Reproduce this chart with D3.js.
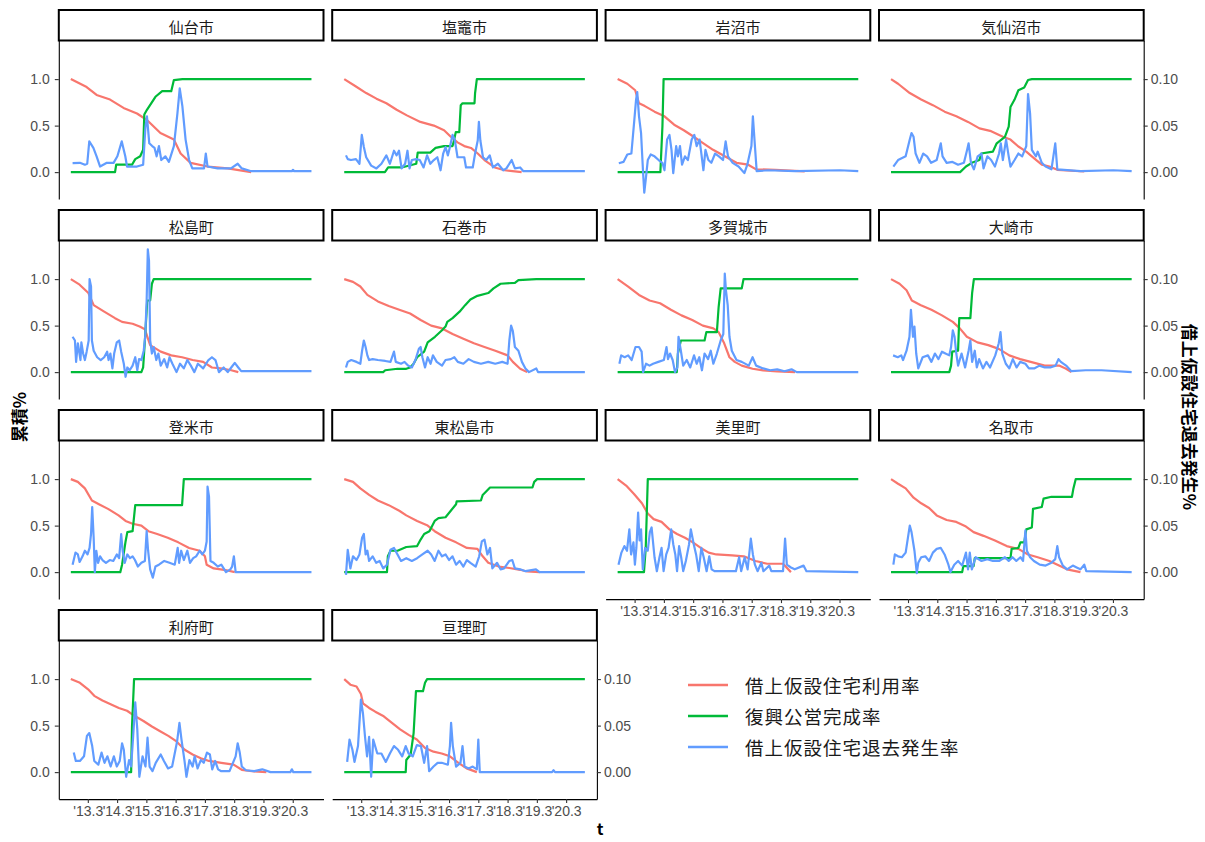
<!DOCTYPE html>
<html><head><meta charset="utf-8">
<script src="https://cdn.jsdelivr.net/npm/d3@7"></script>
<style>
body{margin:0;background:#fff;}
svg{display:block;}
</style></head>
<body>
<svg id="chart" width="1205" height="842"></svg>
<script>
// ---- data (t = years since start of record, ≈ Aug 2012) ----
const cities = ["仙台市","塩竈市","岩沼市","気仙沼市","松島町","石巻市","多賀城市","大崎市","登米市","東松島市","美里町","名取市","利府町","亘理町"];
const seriesNames = ["借上仮設住宅利用率","復興公営完成率","借上仮設住宅退去発生率"];
const xTickPos = [0.58,1.58,2.58,3.58,4.58,5.58,6.58,7.58];
const xTickLabels = ["'13.3","'14.3","'15.3","'16.3","'17.3","'18.3","'19.3","'20.3"];
const yTicksLeft = [0,0.5,1.0];
const yTicksRight = [0,0.05,0.10];

// 借上仮設住宅利用率 (left axis) : flat [t,v,...]
const useRate = [
[0,1, 0.54,0.914, 0.88,0.83, 1.34,0.78, 1.80,0.69, 2.26,0.63, 2.60,0.56, 3.06,0.42, 3.52,0.35, 3.75,0.20, 4.09,0.10, 4.67,0.06, 5.36,0.04, 6.16,0],
[0,1, 0.40,0.92, 0.75,0.85, 1.10,0.79, 1.44,0.74, 1.79,0.67, 2.14,0.61, 2.60,0.54, 3.06,0.50, 3.41,0.45, 3.64,0.38, 3.87,0.32, 4.10,0.28, 4.33,0.26, 4.56,0.20, 4.79,0.13, 5.14,0.05, 5.48,0.02, 6.06,0],
[0,1, 0.33,0.95, 0.60,0.88, 0.73,0.74, 0.93,0.71, 1.26,0.65, 1.60,0.60, 1.93,0.51, 2.26,0.45, 2.60,0.38, 2.93,0.31, 3.26,0.24, 3.66,0.17, 4.06,0.10, 4.46,0.08, 4.73,0.03, 5.39,0.025, 6.39,0.007],
[0,1, 0.24,0.95, 0.64,0.85, 1.03,0.78, 1.43,0.72, 1.83,0.65, 2.23,0.60, 2.63,0.54, 3.02,0.47, 3.42,0.44, 3.82,0.38, 4.08,0.35, 4.35,0.275, 4.62,0.22, 4.88,0.15, 5.15,0.08, 5.41,0.06, 5.68,0.025, 6.60,0.007],
[0,1, 0.30,0.94, 0.60,0.85, 0.78,0.72, 1.14,0.65, 1.51,0.58, 1.75,0.54, 2.11,0.52, 2.35,0.49, 2.53,0.46, 2.71,0.29, 3.07,0.22, 3.43,0.18, 3.80,0.16, 4.16,0.13, 4.52,0.11, 4.82,0.05, 5.12,0.04, 5.48,0.02, 5.72,0],
[0,1, 0.30,0.97, 0.55,0.92, 0.79,0.83, 1.15,0.76, 1.52,0.71, 1.88,0.67, 2.25,0.63, 2.61,0.56, 2.97,0.50, 3.34,0.47, 3.70,0.41, 4.07,0.36, 4.43,0.31, 4.79,0.27, 5.16,0.23, 5.58,0.18, 5.76,0.11, 6.01,0.036, 6.25,0],
[0,1, 0.36,0.92, 0.73,0.83, 1.09,0.77, 1.45,0.74, 1.82,0.67, 2.18,0.61, 2.55,0.56, 2.91,0.50, 3.27,0.47, 3.45,0.43, 3.64,0.31, 3.82,0.16, 4.0,0.11, 4.24,0.07, 4.61,0.036, 4.97,0.018, 5.45,0.007, 6.06,0],
[0,1, 0.29,0.95, 0.53,0.88, 0.71,0.77, 1.02,0.72, 1.38,0.67, 1.74,0.61, 2.11,0.54, 2.35,0.47, 2.59,0.38, 2.95,0.32, 3.32,0.29, 3.68,0.25, 4.04,0.18, 4.41,0.14, 4.77,0.11, 5.25,0.07, 5.74,0.07, 5.98,0.036, 6.16,0],
[0,1, 0.24,0.97, 0.48,0.90, 0.72,0.77, 0.96,0.73, 1.27,0.68, 1.63,0.61, 1.87,0.55, 2.11,0.52, 2.41,0.50, 2.65,0.44, 2.95,0.41, 3.31,0.37, 3.67,0.32, 4.04,0.26, 4.40,0.23, 4.58,0.17, 4.64,0.08, 4.88,0.04, 5.24,0.025, 5.60,0],
[0,1, 0.30,0.97, 0.55,0.90, 0.85,0.83, 1.15,0.77, 1.52,0.72, 1.88,0.66, 2.12,0.61, 2.49,0.55, 2.85,0.50, 3.09,0.44, 3.46,0.37, 3.82,0.32, 4.19,0.26, 4.55,0.25, 4.73,0.17, 4.92,0.10, 5.28,0.06, 5.64,0.044, 6.01,0.025, 6.25,0.007, 6.67,0],
[0,1, 0.29,0.93, 0.56,0.84, 0.83,0.74, 1.03,0.63, 1.23,0.57, 1.50,0.54, 1.77,0.46, 2.03,0.41, 2.30,0.37, 2.57,0.32, 2.84,0.26, 3.11,0.21, 3.37,0.19, 3.91,0.18, 4.31,0.17, 4.71,0.12, 5.11,0.09, 5.65,0.09, 5.92,0],
[0,1, 0.24,0.95, 0.50,0.90, 0.77,0.80, 1.03,0.74, 1.30,0.69, 1.56,0.61, 1.90,0.56, 2.23,0.54, 2.56,0.49, 2.82,0.43, 3.16,0.39, 3.55,0.34, 3.95,0.28, 4.35,0.25, 4.68,0.19, 5.01,0.16, 5.41,0.12, 5.74,0.07, 6.01,0.03, 6.47,0],
[0,1, 0.31,0.96, 0.59,0.89, 0.80,0.82, 1.08,0.77, 1.36,0.73, 1.64,0.69, 1.92,0.66, 2.20,0.60, 2.48,0.55, 2.77,0.49, 3.05,0.44, 3.33,0.39, 3.61,0.33, 3.89,0.24, 4.16,0.19, 4.44,0.15, 4.72,0.12, 5.14,0.10, 5.56,0.08, 5.84,0.025, 6.26,0.007, 6.68,0],
[0,1, 0.21,0.94, 0.42,0.92, 0.57,0.84, 0.64,0.74, 0.85,0.69, 1.06,0.65, 1.35,0.60, 1.63,0.53, 1.91,0.46, 2.20,0.40, 2.48,0.35, 2.76,0.26, 3.05,0.22, 3.33,0.20, 3.61,0.17, 3.90,0.10, 4.18,0.04, 4.53,0]
];

// 復興公営完成率 (left axis)
const doneRate = [
[0,0, 1.51,0, 1.55,0.08, 2.09,0.08, 2.2,0.14, 2.37,0.17, 2.47,0.24, 2.51,0.62, 2.6,0.67, 2.89,0.81, 3.12,0.87, 3.43,0.87, 3.52,0.99, 3.81,1, 8.22,1],
[0,0, 1.39,0, 1.50,0.05, 1.96,0.05, 2.46,0.09, 2.51,0.21, 2.94,0.21, 3.12,0.26, 3.41,0.28, 3.70,0.28, 3.75,0.34, 3.81,0.43, 3.93,0.43, 3.98,0.72, 4.04,0.74, 4.45,0.74, 4.47,0.85, 4.53,1, 8.22,1],
[0,0, 1.46,0, 1.53,0.49, 1.57,1, 8.22,1],
[0,0, 2.36,0, 2.56,0.06, 2.76,0.10, 3.02,0.13, 3.08,0.20, 3.48,0.22, 3.61,0.31, 3.89,0.38, 4.02,0.49, 4.08,0.70, 4.22,0.78, 4.35,0.88, 4.55,0.91, 4.68,0.99, 4.81,1, 8.22,1],
[0,0, 2.41,0, 2.47,0.05, 2.53,0.34, 2.61,0.77, 2.71,0.77, 2.77,0.95, 2.83,1, 8.22,1],
[0,0, 1.33,0, 1.40,0.02, 1.82,0.036, 2.12,0.036, 2.25,0.05, 2.37,0.09, 2.49,0.16, 2.73,0.22, 2.85,0.32, 3.10,0.38, 3.34,0.45, 3.46,0.49, 3.52,0.54, 3.70,0.58, 3.94,0.65, 4.13,0.72, 4.31,0.78, 4.55,0.82, 4.92,0.85, 5.10,0.90, 5.34,0.95, 5.83,0.96, 5.95,0.99, 6.56,1, 8.22,1],
[0,0, 2.02,0, 2.06,0.20, 2.16,0.34, 2.97,0.34, 3.03,0.43, 3.39,0.43, 3.45,0.70, 3.52,0.90, 4.24,0.90, 4.30,1, 8.22,1],
[0,0, 1.99,0, 2.05,0.07, 2.09,0.22, 2.29,0.23, 2.33,0.58, 2.71,0.58, 2.77,0.85, 2.83,1, 8.22,1],
[0,0, 1.69,0, 1.75,0.08, 1.87,0.33, 1.93,0.43, 2.11,0.44, 2.20,0.72, 3.80,0.72, 3.86,1, 8.22,1],
[0,0, 1.46,0, 1.49,0.17, 1.58,0.23, 1.82,0.23, 2.12,0.27, 2.49,0.28, 2.61,0.35, 2.73,0.41, 2.91,0.44, 3.09,0.55, 3.22,0.58, 3.46,0.59, 3.82,0.73, 3.84,0.76, 4.67,0.77, 4.73,0.83, 4.98,0.91, 6.43,0.91, 6.49,0.97, 6.59,1, 8.22,1],
[0,0, 0.90,0, 0.96,0.26, 1.03,1, 8.22,1],
[0,0, 2.43,0, 2.47,0.065, 2.82,0.065, 2.86,0.15, 4.08,0.15, 4.12,0.25, 4.35,0.26, 4.42,0.32, 4.55,0.32, 4.62,0.46, 4.81,0.48, 4.85,0.68, 5.15,0.70, 5.21,0.79, 5.48,0.81, 6.18,0.81, 6.23,0.90, 6.31,1, 8.22,1],
[0,0, 2.06,0, 2.09,0.49, 2.16,1, 8.22,1],
[0,0, 2.10,0, 2.12,0.13, 2.27,0.19, 2.37,0.42, 2.45,0.87, 2.69,0.87, 2.76,0.96, 2.83,1, 8.22,1]
];

// 借上仮設住宅退去発生率 (right axis)
const exitRate = [
[0.06,0.0097, 0.31,0.010, 0.48,0.008, 0.56,0.009, 0.63,0.033, 0.77,0.026, 0.88,0.017, 1.0,0.006, 1.23,0.010, 1.46,0.010, 1.59,0.017, 1.74,0.033, 1.86,0.017, 1.92,0.006, 2.26,0.006, 2.47,0.008, 2.55,0.049, 2.60,0.060, 2.68,0.031, 2.78,0.028, 2.86,0.026, 2.93,0.017, 3.01,0.028, 3.09,0.013, 3.23,0.017, 3.35,0.011, 3.52,0.028, 3.64,0.063, 3.72,0.090, 3.81,0.071, 3.92,0.035, 4.04,0.013, 4.15,0.004, 4.55,0.004, 4.61,0.020, 4.67,0.006, 5.01,0.004, 5.47,0.004, 5.70,0.009, 5.84,0.004, 6.16,0.001, 7.55,0.001, 7.59,0.0025, 7.63,0.001, 8.22,0.001],
[0.06,0.018, 0.12,0.014, 0.23,0.013, 0.40,0.014, 0.52,0.009, 0.60,0.040, 0.67,0.027, 0.75,0.016, 0.92,0.007, 1.10,0.004, 1.27,0.009, 1.44,0.018, 1.56,0.009, 1.70,0.023, 1.79,0.018, 1.87,0.023, 1.96,0.004, 2.08,0.009, 2.16,0.023, 2.23,0.004, 2.31,0.013, 2.46,0.014, 2.58,0.013, 2.71,0.005, 2.83,0.018, 2.94,0.009, 3.06,0.013, 3.18,0.016, 3.29,0.002, 3.38,0.020, 3.46,0.027, 3.54,0.018, 3.61,0.027, 3.70,0.040, 3.78,0.034, 3.87,0.016, 4.10,0.016, 4.16,0.005, 4.39,0.005, 4.47,0.020, 4.56,0.034, 4.60,0.054, 4.65,0.034, 4.74,0.016, 4.85,0.013, 4.97,0.018, 5.08,0.005, 5.25,0.009, 5.43,0.002, 5.54,0.004, 5.72,0.013, 5.83,0.004, 6.01,0.005, 6.12,0.001, 8.22,0.001],
[0.04,0.0096, 0.20,0.011, 0.33,0.019, 0.47,0.020, 0.57,0.056, 0.63,0.078, 0.67,0.086, 0.73,0.060, 0.80,0.042, 0.87,-0.001, 0.91,-0.022, 0.96,-0.008, 1.03,0.013, 1.13,0.019, 1.26,0.017, 1.40,0.013, 1.53,0.010, 1.60,0.002, 1.69,0.035, 1.77,0.040, 1.84,0.024, 1.90,-0.001, 2.00,0.028, 2.06,0.017, 2.13,0.028, 2.20,0.008, 2.30,0.017, 2.40,0.013, 2.53,0.035, 2.62,0.040, 2.70,0.028, 2.80,0.035, 2.86,0.020, 2.93,0.002, 3.00,0.024, 3.10,0.013, 3.20,0.010, 3.33,0.020, 3.46,0.017, 3.60,0.013, 3.69,0.033, 3.77,0.017, 3.93,0.010, 4.13,0.006, 4.33,-0.001, 4.43,0.008, 4.57,0.028, 4.62,0.060, 4.69,0.028, 4.75,0.001, 5.13,0.002, 6.06,0.001, 7.59,0.002, 8.22,0.001],
[0.08,0.006, 0.24,0.013, 0.50,0.017, 0.64,0.035, 0.70,0.042, 0.77,0.038, 0.84,0.020, 0.97,0.010, 1.10,0.020, 1.23,0.017, 1.37,0.010, 1.56,0.013, 1.70,0.031, 1.76,0.017, 1.90,0.010, 2.10,0.011, 2.29,0.008, 2.49,0.010, 2.60,0.024, 2.65,0.031, 2.73,0.010, 2.83,0.003, 2.96,0.017, 3.09,0.020, 3.16,0.004, 3.29,0.017, 3.42,0.013, 3.55,0.006, 3.69,0.020, 3.75,0.031, 3.82,0.013, 3.93,0.035, 4.02,0.017, 4.08,0.006, 4.22,0.013, 4.35,0.020, 4.48,0.017, 4.62,0.028, 4.68,0.084, 4.75,0.063, 4.81,0.024, 4.95,0.017, 5.01,0.022, 5.15,0.010, 5.28,0.006, 5.48,0.003, 5.61,0.031, 5.68,0.003, 6.47,0.001, 7.59,0.002, 8.22,0.001],
[0.06,0.038, 0.14,0.034, 0.18,0.011, 0.24,0.031, 0.33,0.013, 0.36,0.032, 0.42,0.020, 0.48,0.013, 0.54,0.022, 0.61,0.034, 0.64,0.100, 0.69,0.092, 0.72,0.034, 0.78,0.023, 0.90,0.016, 1.02,0.013, 1.14,0.016, 1.24,0.022, 1.29,0.013, 1.35,0.020, 1.42,0.004, 1.48,0.020, 1.57,0.032, 1.65,0.034, 1.72,0.022, 1.81,0.009, 1.87,-0.005, 1.93,0.005, 2.01,0.002, 2.11,0.007, 2.20,0.016, 2.27,0.002, 2.33,0.014, 2.41,0.013, 2.49,0.023, 2.54,0.038, 2.59,0.077, 2.63,0.132, 2.67,0.120, 2.71,0.034, 2.77,0.020, 2.83,0.027, 2.92,0.013, 2.99,0.020, 3.07,0.007, 3.19,0.014, 3.29,0.005, 3.37,0.016, 3.47,0.009, 3.61,0.0, 3.73,0.009, 3.86,0.004, 3.98,0.013, 4.10,0.007, 4.22,0.0, 4.34,0.009, 4.52,0.004, 4.70,0.013, 4.82,0.016, 4.94,0.013, 5.06,0.0, 5.22,0.005, 5.36,0.0, 5.48,0.005, 5.60,0.010, 5.72,0.005, 5.82,0.001, 8.22,0.001],
[0.06,0.005, 0.12,0.011, 0.24,0.013, 0.42,0.011, 0.55,0.009, 0.61,0.023, 0.67,0.034, 0.73,0.027, 0.79,0.018, 0.85,0.013, 0.97,0.014, 1.15,0.013, 1.40,0.012, 1.58,0.011, 1.70,0.022, 1.76,0.011, 1.94,0.009, 2.06,0.011, 2.18,0.007, 2.31,0.005, 2.43,0.013, 2.55,0.025, 2.61,0.027, 2.67,0.016, 2.76,0.005, 2.85,0.016, 2.95,0.009, 3.03,0.018, 3.16,0.011, 3.34,0.007, 3.46,0.013, 3.64,0.014, 3.76,0.016, 3.88,0.011, 4.07,0.009, 4.25,0.014, 4.43,0.011, 4.67,0.009, 4.92,0.011, 5.16,0.009, 5.40,0.011, 5.58,0.009, 5.64,0.034, 5.70,0.050, 5.76,0.044, 5.83,0.027, 5.95,0.023, 6.07,0.011, 6.19,0.004, 6.31,0.0, 6.56,0.004, 6.62,0.0, 8.22,0.0],
[0.06,0.009, 0.12,0.018, 0.24,0.016, 0.36,0.018, 0.48,0.013, 0.61,0.027, 0.73,0.027, 0.82,0.022, 0.87,0.0, 0.97,0.009, 1.09,0.007, 1.21,0.009, 1.39,0.011, 1.58,0.013, 1.67,0.027, 1.72,0.014, 1.79,0.020, 1.88,0.013, 1.96,0.0, 2.04,0.005, 2.08,0.038, 2.16,0.023, 2.24,0.007, 2.36,0.013, 2.48,0.005, 2.61,0.018, 2.70,0.009, 2.79,0.016, 2.88,0.002, 2.97,0.020, 3.09,0.014, 3.18,0.023, 3.27,0.009, 3.39,0.020, 3.52,0.034, 3.61,0.041, 3.66,0.106, 3.70,0.088, 3.76,0.072, 3.82,0.038, 3.90,0.023, 4.06,0.013, 4.24,0.011, 4.48,0.007, 4.61,0.016, 4.73,0.007, 4.97,0.004, 5.21,0.002, 5.45,0.003, 5.70,0.001, 5.94,0.003, 6.12,0.0, 8.22,0.0],
[0.07,0.018, 0.23,0.016, 0.35,0.018, 0.41,0.013, 0.53,0.023, 0.63,0.038, 0.68,0.067, 0.75,0.038, 0.80,0.049, 0.86,0.020, 0.93,0.004, 1.08,0.016, 1.26,0.018, 1.38,0.011, 1.50,0.020, 1.62,0.014, 1.74,0.022, 1.86,0.020, 1.99,0.018, 2.05,0.027, 2.11,0.045, 2.17,0.038, 2.23,0.020, 2.29,0.007, 2.41,0.020, 2.53,0.005, 2.65,0.023, 2.71,0.034, 2.77,0.011, 2.86,0.023, 2.93,0.005, 3.01,0.014, 3.14,0.004, 3.26,0.011, 3.38,0.005, 3.56,0.018, 3.68,0.031, 3.74,0.043, 3.80,0.020, 3.92,0.009, 4.04,0.004, 4.16,0.014, 4.29,0.005, 4.41,0.011, 4.59,0.009, 4.71,0.004, 4.89,0.004, 5.07,0.007, 5.25,0.005, 5.44,0.005, 5.62,0.007, 5.72,0.014, 5.80,0.011, 5.98,0.007, 6.16,0.001, 6.65,0.002, 7.19,0.002, 8.22,0.0],
[0.06,0.008, 0.16,0.021, 0.24,0.019, 0.30,0.011, 0.40,0.017, 0.48,0.023, 0.57,0.019, 0.64,0.026, 0.69,0.041, 0.73,0.070, 0.78,0.037, 0.82,0.0, 0.87,0.023, 0.93,0.010, 1.00,0.017, 1.08,0.013, 1.20,0.010, 1.33,0.013, 1.45,0.012, 1.57,0.019, 1.65,0.015, 1.72,0.041, 1.77,0.023, 1.84,0.010, 1.93,0.019, 2.02,0.015, 2.11,0.017, 2.19,0.013, 2.29,0.006, 2.41,0.010, 2.53,0.012, 2.59,0.044, 2.64,0.023, 2.71,0.003, 2.80,-0.006, 2.89,0.006, 3.01,0.008, 3.19,0.012, 3.37,0.010, 3.55,0.008, 3.65,0.026, 3.70,0.010, 3.77,0.023, 3.86,0.013, 3.98,0.023, 4.07,0.010, 4.18,0.015, 4.28,0.017, 4.40,0.023, 4.49,0.019, 4.58,0.023, 4.64,0.033, 4.67,0.092, 4.72,0.081, 4.77,0.012, 4.88,0.010, 5.02,0.006, 5.14,0.008, 5.30,0.0, 5.45,0.003, 5.51,0.006, 5.57,0.017, 5.63,0.0, 8.22,0.0],
[0.06,-0.003, 0.12,0.024, 0.21,0.004, 0.30,0.017, 0.42,0.013, 0.52,0.019, 0.61,0.037, 0.67,0.041, 0.73,0.019, 0.79,0.023, 0.85,0.012, 0.97,0.017, 1.09,0.010, 1.21,0.012, 1.33,0.004, 1.46,0.008, 1.58,0.024, 1.70,0.026, 1.82,0.019, 1.94,0.012, 2.12,0.015, 2.31,0.012, 2.49,0.015, 2.67,0.019, 2.85,0.023, 2.97,0.019, 3.09,0.012, 3.22,0.023, 3.34,0.017, 3.46,0.019, 3.58,0.013, 3.70,0.017, 3.82,0.008, 3.94,0.012, 4.07,0.006, 4.19,0.013, 4.31,0.010, 4.49,0.006, 4.61,0.017, 4.70,0.033, 4.79,0.035, 4.89,0.019, 4.98,0.026, 5.06,0.004, 5.22,0.010, 5.34,0.003, 5.46,0.004, 5.64,0.012, 5.74,0.013, 5.83,0.004, 6.01,0.003, 6.19,0.001, 6.55,0.003, 6.67,0.0, 8.22,0.0],
[0.03,0.008, 0.13,0.021, 0.23,0.028, 0.32,0.023, 0.40,0.046, 0.46,0.019, 0.54,0.032, 0.59,0.008, 0.64,0.026, 0.70,0.064, 0.75,0.034, 0.80,0.046, 0.86,0.003, 0.94,0.026, 1.03,0.023, 1.10,0.043, 1.16,0.048, 1.26,0.016, 1.34,0.001, 1.43,0.016, 1.50,0.026, 1.57,0.001, 1.66,0.019, 1.74,0.026, 1.83,0.046, 1.90,0.030, 1.97,0.019, 2.03,0.001, 2.10,0.028, 2.17,0.016, 2.24,0.001, 2.33,0.012, 2.44,0.030, 2.50,0.046, 2.60,0.030, 2.68,0.019, 2.77,0.001, 2.86,0.026, 2.94,0.016, 3.04,0.001, 3.13,0.017, 3.21,0.003, 3.31,0.001, 4.04,0.001, 4.15,0.016, 4.22,0.001, 4.34,0.016, 4.44,0.003, 4.55,0.036, 4.62,0.019, 4.69,0.008, 4.78,0.001, 4.91,0.010, 4.98,0.001, 5.18,0.007, 5.25,0.001, 5.65,0.001, 5.72,0.036, 5.78,0.008, 5.92,0.005, 6.05,0.003, 6.35,0.007, 6.45,0.001, 8.22,0.0],
[0.08,0.008, 0.13,0.019, 0.24,0.017, 0.37,0.016, 0.50,0.021, 0.64,0.050, 0.70,0.043, 0.80,0.023, 0.88,-0.001, 0.93,0.010, 1.03,0.016, 1.17,0.017, 1.30,0.012, 1.43,0.021, 1.56,0.025, 1.70,0.026, 1.83,0.019, 1.96,0.008, 2.03,0.0, 2.16,0.008, 2.29,0.012, 2.43,0.007, 2.56,0.021, 2.63,0.003, 2.69,0.021, 2.76,0.003, 2.89,0.016, 3.09,0.012, 3.29,0.014, 3.48,0.012, 3.69,0.012, 3.89,0.016, 4.02,0.012, 4.15,0.016, 4.28,0.012, 4.42,0.016, 4.51,0.012, 4.59,0.045, 4.64,0.023, 4.75,0.016, 4.88,0.012, 5.08,0.008, 5.28,0.007, 5.48,0.010, 5.61,0.014, 5.68,0.028, 5.74,0.016, 5.87,0.007, 6.01,0.003, 6.21,0.007, 6.34,0.005, 6.47,0.003, 6.60,0.008, 6.67,0.001, 8.22,0.0],
[0.10,0.021, 0.17,0.012, 0.31,0.012, 0.45,0.017, 0.55,0.039, 0.63,0.042, 0.73,0.028, 0.80,0.012, 0.94,0.008, 1.05,0.021, 1.15,0.010, 1.25,0.017, 1.36,0.006, 1.47,0.017, 1.57,0.006, 1.67,0.012, 1.75,0.031, 1.81,0.024, 1.89,-0.005, 1.99,0.013, 2.06,0.006, 2.13,0.039, 2.20,0.075, 2.27,0.046, 2.34,-0.005, 2.45,0.017, 2.55,0.006, 2.62,0.037, 2.69,0.006, 2.79,0.001, 2.90,0.010, 3.07,0.019, 3.18,0.012, 3.32,0.004, 3.46,0.006, 3.63,0.033, 3.71,0.053, 3.78,0.035, 3.88,0.013, 3.95,-0.005, 4.05,0.013, 4.16,0.006, 4.23,0.017, 4.33,0.004, 4.44,0.013, 4.54,0.010, 4.65,0.021, 4.75,0.019, 4.83,0.003, 4.93,0.012, 5.03,0.003, 5.14,0.001, 5.42,0.001, 5.63,0.017, 5.70,0.031, 5.77,0.021, 5.84,0.006, 5.98,0.002, 6.26,0.001, 6.54,0.003, 6.82,0.0, 7.50,0.0, 7.55,0.003, 7.60,0.0, 8.22,0.0],
[0.10,0.011, 0.18,0.035, 0.28,0.024, 0.35,0.011, 0.47,0.028, 0.57,0.078, 0.64,0.063, 0.71,0.038, 0.78,0.017, 0.85,0.038, 0.92,-0.005, 0.99,0.035, 1.13,0.020, 1.27,0.020, 1.42,0.011, 1.56,0.020, 1.70,0.028, 1.84,0.024, 1.98,0.017, 2.10,0.028, 2.20,0.020, 2.34,0.017, 2.48,0.029, 2.62,0.028, 2.73,0.010, 2.83,0.028, 2.90,0.001, 3.05,0.006, 3.19,0.010, 3.33,0.010, 3.54,0.008, 3.61,0.028, 3.65,0.053, 3.71,0.028, 3.82,0.006, 3.97,0.010, 4.04,0.028, 4.11,0.006, 4.25,0.004, 4.39,0.006, 4.53,0.003, 4.58,0.035, 4.63,0.0, 7.10,0.0, 7.15,0.002, 7.20,0.0, 8.22,0.0]
];

const colors = ["#F8766D","#00BA38","#619CFF"];

// ---- layout ----
const svg = d3.select("#chart");
const nCol = 4, nPanels = cities.length;
const L0 = 58.8, colStep = 273.4, pW = 264.7;
const T0 = 10, rowStep = 200, stripH = 30.5, pH = 158.6;
const xDom = [-0.411, 8.631];
const yDom = [-0.29, 1.415];
const tickFont = "14px 'Liberation Sans', Arial, sans-serif";
const jpFont = "'Noto Sans CJK JP', 'Noto Sans CJK SC', sans-serif";

function pairs(flat){ const out=[]; for(let i=0;i<flat.length;i+=2) out.push([flat[i],flat[i+1]]); return out; }

function styleAxis(g){
  g.select(".domain").attr("stroke","#000").attr("stroke-width",1.1);
  g.selectAll(".tick line").attr("stroke","#333").attr("stroke-width",1.1);
  g.selectAll(".tick text").attr("fill","#4D4D4D").style("font", tickFont);
}

cities.forEach((city,i)=>{
  const r = Math.floor(i/nCol), c = i % nCol;
  const left = L0 + c*colStep, stripTop = T0 + r*rowStep, top = stripTop + stripH, bottom = top + pH;
  const x = d3.scaleLinear().domain(xDom).range([left, left+pW]);
  const y = d3.scaleLinear().domain(yDom).range([bottom, top]);
  const y2 = d3.scaleLinear().domain(yDom.map(v=>v/10)).range([bottom, top]);

  // strip
  svg.append("rect").attr("x",left).attr("y",stripTop).attr("width",pW).attr("height",stripH)
    .attr("fill","#fff").attr("stroke","#000").attr("stroke-width",2);
  svg.append("text").attr("x",left+pW/2).attr("y",stripTop+stripH/2+1)
    .attr("text-anchor","middle").attr("dominant-baseline","central")
    .attr("fill","#1A1A1A").style("font-family",jpFont).style("font-size","15px").text(city);

  const g = svg.append("g");
  const line = d3.line().x(d=>x(d[0])).y(d=>y(d[1]));
  const line2 = d3.line().x(d=>x(d[0])).y(d=>y2(d[1]));
  g.append("path").attr("d", line(pairs(useRate[i]))).attr("fill","none").attr("stroke",colors[0]).attr("stroke-width",2.2).attr("stroke-linejoin","round");
  g.append("path").attr("d", line(pairs(doneRate[i]))).attr("fill","none").attr("stroke",colors[1]).attr("stroke-width",2.2).attr("stroke-linejoin","round");
  g.append("path").attr("d", line2(pairs(exitRate[i]))).attr("fill","none").attr("stroke",colors[2]).attr("stroke-width",2.2).attr("stroke-linejoin","round");

  if(c===0){
    svg.append("g").attr("transform",`translate(${left},0)`)
      .call(d3.axisLeft(y).tickValues(yTicksLeft).tickFormat(d3.format(".1f")).tickSize(4).tickPadding(5).tickSizeOuter(0))
      .call(styleAxis);
  }
  if(c===nCol-1 || i===nPanels-1){
    svg.append("g").attr("transform",`translate(${left+pW},0)`)
      .call(d3.axisRight(y2).tickValues(yTicksRight).tickFormat(d3.format(".2f")).tickSize(4).tickPadding(3).tickSizeOuter(0))
      .call(styleAxis);
  }
  if(i + nCol >= nPanels){
    svg.append("g").attr("transform",`translate(0,${bottom})`)
      .call(d3.axisBottom(x).tickValues(xTickPos).tickFormat((d,k)=>xTickLabels[k]).tickSize(4).tickPadding(3).tickSizeOuter(0))
      .call(styleAxis);
  }
});

// axis titles
svg.append("text").attr("transform","translate(18,417) rotate(-90)")
  .attr("text-anchor","middle").attr("dominant-baseline","central")
  .style("font-family",jpFont).style("font-size","17px").style("font-weight","bold").attr("fill","#000").text("累積%");
svg.append("text").attr("transform","translate(1190,417) rotate(90)")
  .attr("text-anchor","middle").attr("dominant-baseline","central")
  .style("font-family",jpFont).style("font-size","17px").style("font-weight","bold").attr("fill","#000").text("借上仮設住宅退去発生%");
svg.append("text").attr("x",600).attr("y",828)
  .attr("text-anchor","middle").attr("dominant-baseline","central")
  .style("font-family",jpFont).style("font-size","16px").style("font-weight","bold").attr("fill","#000").text("t");

// legend
const legendY = [685, 716, 747];
seriesNames.forEach((name,k)=>{
  svg.append("line").attr("x1",688).attr("x2",728).attr("y1",legendY[k]).attr("y2",legendY[k])
    .attr("stroke",colors[k]).attr("stroke-width",2.5);
  svg.append("text").attr("x",745).attr("y",legendY[k]).attr("dominant-baseline","central")
    .style("font-family",jpFont).style("font-size","18.5px").style("letter-spacing","1px").attr("fill","#1A1A1A").text(name);
});
</script>
</body></html>
